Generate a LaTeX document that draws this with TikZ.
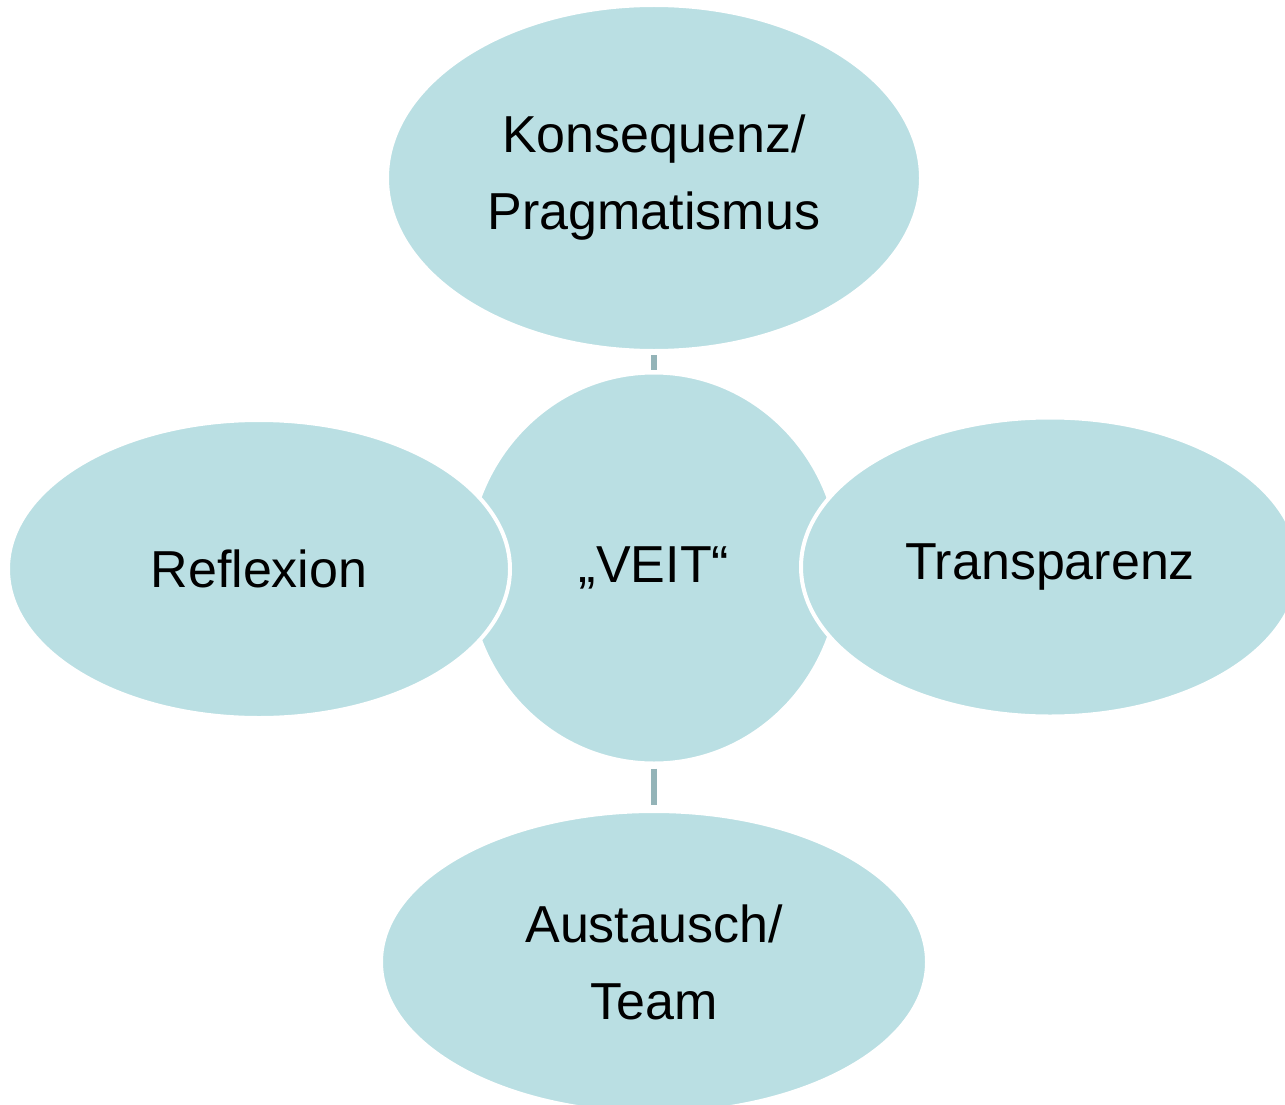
\documentclass[tikz,border=0pt]{standalone}
\usepackage{fontspec}
\setmainfont{Liberation Sans}
\usetikzlibrary{shapes.geometric}
\definecolor{bubble}{HTML}{BADFE3}
\definecolor{linkc}{HTML}{94B4B8}
\begin{document}
\begin{tikzpicture}[x=1pt,y=-1pt,
  bub/.style={ellipse, fill=bubble, draw=white, line width=4pt, inner sep=0pt,
    align=center, font=\fontsize{52}{77}\selectfont, text=black},
  link/.style={draw=linkc, line width=6pt}]
\useasboundingbox (0,0) rectangle (1285,1105);
\node[bub, minimum width=374pt, minimum height=391pt] (c) at (654,568) {„VEIT“};
\node[bub, minimum width=534pt, minimum height=346pt] (t) at (654,178) {Konsequenz/\\Pragmatismus};
\node[bub, minimum width=546pt, minimum height=302pt] (b) at (654,962) {Austausch/\\Team};
\node[bub, minimum width=502pt, minimum height=298pt] (l) at (259,569) {Reflexion};
\node[bub, minimum width=498pt, minimum height=299pt] (r) at (1050,567) {Transparenz};
\draw[link, shorten <=2pt, shorten >=1pt] (t.south) -- (c.north);
\draw[link, shorten <=3pt, shorten >=4pt] (c.south) -- (b.north);
\end{tikzpicture}
\end{document}
